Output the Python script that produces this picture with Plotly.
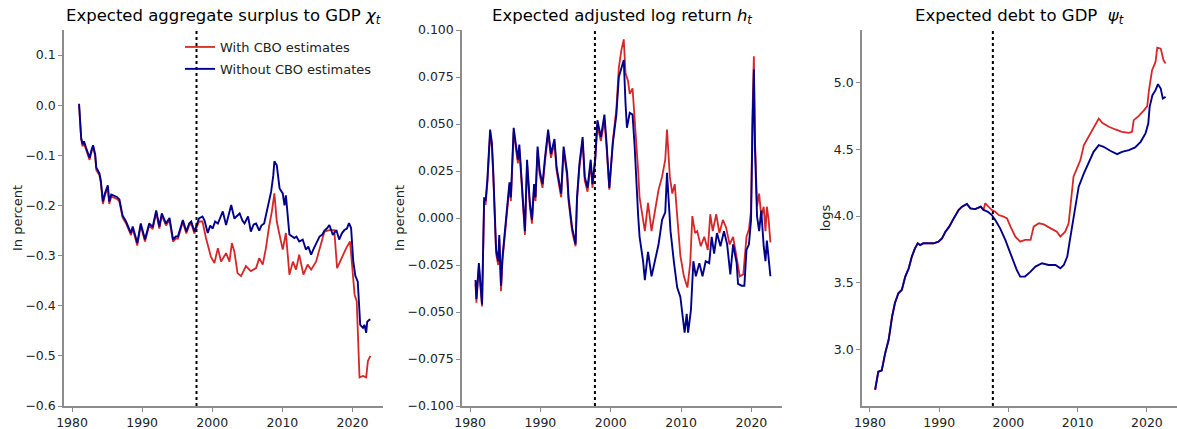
import plotly.graph_objects as go

# ---------------------------------------------------------------------------
# Data
# ---------------------------------------------------------------------------
sample_break = 1997.75

# Expected aggregate surplus to GDP (chi_t), without CBO estimates
chi_wo_years = [1981.0, 1981.15, 1981.3, 1981.5, 1981.7, 1982.0, 1982.3, 1982.5, 1982.8, 1983.0,
                1983.3, 1983.45, 1983.9, 1984.1, 1984.4, 1984.7, 1985.1, 1985.3, 1985.6, 1986.0,
                1986.4, 1986.75, 1987.2, 1987.7, 1988.0, 1988.4, 1988.65, 1989.0, 1989.3, 1989.8,
                1990.1, 1990.4, 1991.0, 1991.5, 1992.0, 1992.45, 1992.8, 1993.4, 1993.9, 1994.4,
                1994.8, 1995.1, 1995.8, 1996.3, 1996.7, 1997.0, 1997.45, 1997.8, 1998.1, 1998.6,
                1998.9, 1999.35, 1999.7, 2000.06, 2000.4, 2000.8, 2001.5, 2001.97, 2002.4, 2002.7,
                2003.15, 2003.9, 2004.3, 2004.6, 2005.1, 2005.5, 2005.9, 2006.25, 2006.7, 2007.0,
                2007.4, 2007.9, 2008.4, 2008.7, 2008.86, 2009.2, 2009.6, 2010.05, 2010.3, 2010.5,
                2010.75, 2011.0, 2011.4, 2011.7, 2012.0, 2012.4, 2012.9, 2013.35, 2013.7, 2014.1,
                2014.5, 2014.8, 2015.3, 2015.7, 2016.0, 2016.4, 2016.7, 2017.2, 2017.7, 2018.1,
                2018.5, 2018.85, 2019.2, 2019.5, 2019.8, 2020.1, 2020.4, 2020.75, 2021.1, 2021.5,
                2021.7, 2021.95, 2022.1, 2022.4, 2022.55]
chi_wo_vals = [0.003, -0.045, -0.065, -0.078, -0.072, -0.085, -0.095, -0.105, -0.088, -0.080,
               -0.098, -0.124, -0.136, -0.150, -0.192, -0.175, -0.160, -0.192, -0.178, -0.180,
               -0.183, -0.188, -0.220, -0.232, -0.242, -0.255, -0.242, -0.258, -0.275, -0.236,
               -0.255, -0.268, -0.236, -0.243, -0.210, -0.242, -0.216, -0.236, -0.225, -0.268,
               -0.262, -0.262, -0.229, -0.252, -0.236, -0.232, -0.252, -0.238, -0.226, -0.222,
               -0.230, -0.255, -0.240, -0.246, -0.232, -0.236, -0.212, -0.239, -0.215, -0.199,
               -0.226, -0.216, -0.230, -0.236, -0.222, -0.252, -0.238, -0.236, -0.250, -0.240,
               -0.236, -0.205, -0.172, -0.140, -0.112, -0.120, -0.166, -0.176, -0.200, -0.180,
               -0.215, -0.258, -0.262, -0.265, -0.262, -0.272, -0.268, -0.288, -0.282, -0.298,
               -0.285, -0.276, -0.262, -0.258, -0.250, -0.245, -0.239, -0.259, -0.249, -0.268,
               -0.255, -0.249, -0.246, -0.235, -0.245, -0.310, -0.340, -0.352, -0.438, -0.444,
               -0.438, -0.454, -0.432, -0.428, -0.427]

# Expected aggregate surplus to GDP (chi_t), with CBO estimates
chi_w_years = [1981.0, 1981.15, 1981.3, 1981.5, 1981.7, 1982.0, 1982.3, 1982.5, 1982.8, 1983.0,
               1983.3, 1983.45, 1983.9, 1984.1, 1984.4, 1984.7, 1985.1, 1985.3, 1985.6, 1986.0,
               1986.4, 1986.75, 1987.2, 1987.7, 1988.0, 1988.4, 1988.65, 1989.0, 1989.3, 1989.8,
               1990.1, 1990.4, 1991.0, 1991.5, 1992.0, 1992.45, 1992.8, 1993.4, 1993.9, 1994.4,
               1994.8, 1995.1, 1995.8, 1996.3, 1996.7, 1997.0, 1997.45, 1997.8, 1998.1, 1998.6,
               1999.1, 1999.8, 2000.3, 2000.8, 2001.25, 2001.97, 2002.45, 2002.8, 2003.15, 2003.6,
               2004.1, 2004.8, 2005.5, 2006.25, 2006.7, 2007.2, 2007.65, 2008.1, 2008.5, 2008.86,
               2009.2, 2009.6, 2010.05, 2010.5, 2011.0, 2011.5, 2011.95, 2012.4, 2013.0, 2013.6,
               2014.1, 2014.8, 2015.3, 2016.0, 2016.7, 2017.4, 2017.8, 2018.4, 2019.1, 2019.65,
               2020.05, 2020.3, 2020.6, 2021.0, 2021.5, 2021.95, 2022.2, 2022.55]
chi_w_vals = [0.000, -0.048, -0.068, -0.082, -0.076, -0.089, -0.099, -0.109, -0.092, -0.084,
              -0.102, -0.129, -0.140, -0.155, -0.197, -0.179, -0.165, -0.197, -0.182, -0.185,
              -0.187, -0.192, -0.224, -0.236, -0.246, -0.259, -0.246, -0.262, -0.280, -0.240,
              -0.259, -0.272, -0.240, -0.247, -0.214, -0.246, -0.220, -0.240, -0.229, -0.272,
              -0.266, -0.266, -0.233, -0.256, -0.240, -0.236, -0.256, -0.242, -0.232, -0.232,
              -0.265, -0.302, -0.315, -0.285, -0.312, -0.295, -0.312, -0.275, -0.292, -0.335,
              -0.341, -0.321, -0.331, -0.325, -0.305, -0.318, -0.285, -0.242, -0.212, -0.176,
              -0.232, -0.259, -0.288, -0.255, -0.338, -0.312, -0.328, -0.298, -0.338, -0.318,
              -0.328, -0.312, -0.285, -0.252, -0.249, -0.249, -0.325, -0.305, -0.285, -0.272,
              -0.338, -0.378, -0.391, -0.543, -0.540, -0.543, -0.510, -0.500]

# Expected adjusted log return (h_t), without CBO estimates
h_wo_years = [1980.77, 1980.9, 1981.25, 1981.5, 1981.7, 1982.0, 1982.2, 1982.45, 1982.85, 1983.1,
              1983.3, 1983.7, 1984.0, 1984.15, 1984.4, 1984.6, 1984.95, 1985.25, 1985.6, 1985.8,
              1986.2, 1986.55, 1986.8, 1987.0, 1987.4, 1987.8, 1988.1, 1988.5, 1988.8, 1989.1,
              1989.3, 1989.6, 1989.9, 1990.3, 1990.65, 1991.1, 1991.5, 1992.0, 1992.3, 1992.95,
              1993.3, 1993.8, 1994.0, 1994.5, 1995.0, 1995.2, 1995.55, 1996.0, 1996.3, 1996.7,
              1997.15, 1997.4, 1997.8, 1998.1, 1998.6, 1999.1, 1999.4, 1999.8, 2000.3, 2000.8,
              2001.15, 2001.5, 2001.85, 2002.1, 2002.3, 2002.7, 2003.1, 2003.4, 2003.65, 2003.9,
              2004.1, 2004.6, 2004.85, 2005.3, 2005.8, 2006.3, 2006.8, 2007.3, 2007.75, 2008.0,
              2008.5, 2009.0, 2009.45, 2009.9, 2010.3, 2010.5, 2010.8, 2011.0, 2011.4, 2011.75,
              2012.1, 2012.6, 2013.05, 2013.5, 2014.0, 2014.35, 2014.7, 2015.1, 2015.6, 2016.1,
              2016.55, 2017.0, 2017.4, 2017.9, 2018.1, 2018.6, 2019.0, 2019.3, 2019.65, 2019.95,
              2020.15, 2020.35, 2020.5, 2020.8, 2021.1, 2021.4, 2021.75, 2022.0, 2022.2, 2022.45,
              2022.7]
h_wo_vals = [-0.033, -0.043, -0.024, -0.038, -0.046, 0.011, 0.009, 0.020, 0.047, 0.040,
             0.024, -0.017, -0.023, -0.009, -0.036, -0.021, -0.007, 0.009, 0.019, 0.011,
             0.048, 0.038, 0.031, 0.039, 0.015, -0.007, 0.031, 0.008, -0.001, 0.018,
             0.011, 0.038, 0.025, 0.018, 0.032, 0.047, 0.034, 0.042, 0.027, 0.013,
             0.038, 0.024, 0.011, -0.005, -0.014, 0.011, 0.029, 0.043, 0.022, 0.016,
             0.031, 0.018, 0.032, 0.052, 0.043, 0.055, 0.040, 0.016, 0.040, 0.055,
             0.075, 0.079, 0.084, 0.061, 0.048, 0.056, 0.055, 0.038, 0.015, 0.001,
             -0.010, -0.023, -0.033, -0.018, -0.031, -0.023, -0.014, -0.001, 0.003, 0.024,
             -0.007, -0.024, -0.037, -0.042, -0.054, -0.061, -0.051, -0.061, -0.049, -0.023,
             -0.031, -0.024, -0.031, -0.023, -0.024, -0.010, -0.019, -0.008, -0.015, -0.007,
             -0.014, -0.030, -0.014, -0.024, -0.035, -0.036, -0.036, -0.017, -0.014, -0.001,
             0.047, 0.079, 0.038, 0.001, -0.007, 0.004, -0.015, -0.023, -0.012, -0.024,
             -0.031]

# Expected adjusted log return (h_t), with CBO estimates
h_w_years = [1980.77, 1980.9, 1981.25, 1981.5, 1981.7, 1982.0, 1982.2, 1982.45, 1982.85, 1983.1,
             1983.3, 1983.7, 1984.0, 1984.15, 1984.4, 1984.6, 1984.95, 1985.25, 1985.6, 1985.8,
             1986.2, 1986.55, 1986.8, 1987.0, 1987.4, 1987.8, 1988.1, 1988.5, 1988.8, 1989.1,
             1989.3, 1989.6, 1989.9, 1990.3, 1990.65, 1991.1, 1991.5, 1992.0, 1992.3, 1992.95,
             1993.3, 1993.8, 1994.0, 1994.5, 1995.0, 1995.2, 1995.55, 1996.0, 1996.3, 1996.7,
             1997.15, 1997.4, 1997.8, 1998.1, 1998.6, 1999.1, 1999.4, 1999.8, 2000.3, 2000.8,
             2001.15, 2001.5, 2001.85, 2002.1, 2002.45, 2002.7, 2003.1, 2003.4, 2003.65, 2003.9,
             2004.1, 2004.5, 2004.85, 2005.3, 2005.8, 2006.3, 2006.8, 2007.3, 2007.75, 2008.0,
             2008.4, 2008.75, 2009.1, 2009.45, 2009.9, 2010.4, 2010.9, 2011.3, 2011.6, 2012.0,
             2012.3, 2012.8, 2013.3, 2013.8, 2014.15, 2014.5, 2015.0, 2015.45, 2015.95, 2016.4,
             2016.9, 2017.4, 2017.9, 2018.35, 2018.85, 2019.3, 2019.65, 2019.95, 2020.15, 2020.35,
             2020.5, 2020.8, 2021.1, 2021.4, 2021.75, 2022.0, 2022.2, 2022.45, 2022.7]
h_w_vals = [-0.035, -0.045, -0.026, -0.040, -0.047, 0.009, 0.007, 0.018, 0.045, 0.038,
            0.022, -0.019, -0.025, -0.011, -0.039, -0.023, -0.009, 0.007, 0.017, 0.009,
            0.046, 0.036, 0.029, 0.037, 0.013, -0.009, 0.029, 0.006, -0.003, 0.016,
            0.009, 0.036, 0.023, 0.016, 0.030, 0.045, 0.032, 0.040, 0.025, 0.011,
            0.036, 0.022, 0.009, -0.007, -0.015, 0.009, 0.027, 0.041, 0.020, 0.014,
            0.029, 0.016, 0.031, 0.049, 0.041, 0.052, 0.038, 0.015, 0.041, 0.058,
            0.080, 0.089, 0.095, 0.077, 0.073, 0.066, 0.069, 0.054, 0.038, 0.025,
            0.011, 0.002, -0.007, 0.008, -0.007, 0.004, 0.015, 0.022, 0.031, 0.047,
            0.022, 0.013, 0.018, 0.001, -0.020, -0.031, -0.037, -0.024, 0.001, -0.008,
            -0.007, -0.015, -0.010, -0.017, 0.002, -0.007, 0.002, -0.008, -0.001, -0.005,
            -0.014, -0.010, -0.021, -0.031, -0.030, -0.010, -0.006, 0.004, 0.055, 0.086,
            0.043, 0.006, 0.013, 0.001, 0.006, -0.007, 0.006, -0.001, -0.013]

# Expected debt to GDP (psi_t), without CBO estimates
psi_wo_years = [1980.75, 1981.2, 1981.7, 1982.2, 1982.7, 1983.2, 1983.6, 1984.1, 1984.6, 1985.1,
                1985.6, 1986.05, 1986.5, 1986.9, 1987.25, 1987.7, 1988.45, 1989.2, 1989.9, 1990.4,
                1990.9, 1991.45, 1992.1, 1992.8, 1993.3, 1994.0, 1994.5, 1995.2, 1996.0, 1996.4,
                1997.05, 1997.6, 1998.1, 1998.8, 1999.55, 2000.3, 2000.75, 2001.2, 2001.7, 2002.4,
                2003.2, 2003.9, 2004.85, 2005.8, 2006.8, 2007.5, 2008.0, 2008.5, 2008.8, 2009.2,
                2009.7, 2010.15, 2010.9, 2011.6, 2012.3, 2013.05, 2013.75, 2014.7, 2015.7, 2016.4,
                2017.4, 2018.3, 2019.1, 2019.8, 2020.2, 2020.4, 2020.8, 2021.25, 2021.6, 2022.0,
                2022.3, 2022.7]
psi_wo_vals = [2.695, 2.830, 2.840, 2.970, 3.070, 3.245, 3.345, 3.420, 3.445, 3.545,
               3.607, 3.695, 3.757, 3.795, 3.782, 3.795, 3.795, 3.795, 3.807, 3.832,
               3.882, 3.920, 3.982, 4.045, 4.070, 4.090, 4.057, 4.052, 4.070, 4.045,
               4.032, 4.007, 3.970, 3.907, 3.820, 3.720, 3.645, 3.595, 3.545, 3.545,
               3.582, 3.620, 3.645, 3.632, 3.632, 3.607, 3.632, 3.695, 3.795, 3.920,
               4.095, 4.220, 4.320, 4.395, 4.482, 4.532, 4.520, 4.490, 4.465, 4.482,
               4.495, 4.515, 4.557, 4.620, 4.695, 4.820, 4.907, 4.945, 4.990, 4.957,
               4.882, 4.895]

# Expected debt to GDP (psi_t), with CBO estimates
psi_w_years = [1980.75, 1981.2, 1981.7, 1982.2, 1982.7, 1983.2, 1983.6, 1984.1, 1984.6, 1985.1,
               1985.6, 1986.05, 1986.5, 1986.9, 1987.25, 1987.7, 1988.45, 1989.2, 1989.9, 1990.4,
               1990.9, 1991.45, 1992.1, 1992.8, 1993.3, 1994.0, 1994.5, 1995.2, 1996.0, 1996.4,
               1996.65, 1997.15, 1997.6, 1998.1, 1998.6, 1999.3, 1999.8, 2000.3, 2001.0, 2001.7,
               2002.4, 2003.2, 2003.65, 2004.4, 2005.1, 2006.1, 2007.0, 2007.5, 2008.2, 2008.7,
               2009.1, 2009.4, 2009.9, 2010.4, 2010.9, 2011.6, 2012.3, 2013.05, 2013.55, 2014.5,
               2015.45, 2016.4, 2017.4, 2017.85, 2018.1, 2018.8, 2019.6, 2020.05, 2020.3, 2020.75,
               2021.25, 2021.5, 2022.0, 2022.4, 2022.7]
psi_w_vals = [2.695, 2.830, 2.840, 2.970, 3.070, 3.245, 3.345, 3.420, 3.445, 3.545,
              3.607, 3.695, 3.757, 3.795, 3.782, 3.795, 3.795, 3.795, 3.807, 3.832,
              3.882, 3.920, 3.982, 4.045, 4.070, 4.090, 4.057, 4.052, 4.070, 4.045,
              4.095, 4.070, 4.045, 4.032, 4.007, 3.995, 3.982, 3.920, 3.845, 3.807,
              3.820, 3.820, 3.920, 3.945, 3.937, 3.907, 3.882, 3.845, 3.882, 3.945,
              4.145, 4.295, 4.357, 4.420, 4.532, 4.595, 4.657, 4.732, 4.700, 4.670,
              4.650, 4.632, 4.625, 4.632, 4.720, 4.750, 4.795, 4.825, 4.945, 5.095,
              5.157, 5.265, 5.257, 5.170, 5.145]

x_ticks = [1980, 1990, 2000, 2010, 2020]

# ---------------------------------------------------------------------------
# Figure
# ---------------------------------------------------------------------------
RED = "#d62728"
BLUE = "#00008b"
W, H = 1177, 429

panels = [
    dict(x=(64, 383), title="Expected aggregate surplus to GDP <i>χ<sub>t</sub></i>",
         ylabel="In percent", yrange=[-0.6, 0.15], ytick=[-0.6, -0.5, -0.4, -0.3, -0.2, -0.1, 0.0, 0.1],
         fmt=".1f", red=(chi_w_years, chi_w_vals), blue=(chi_wo_years, chi_wo_vals)),
    dict(x=(462, 782), title="Expected adjusted log return <i>h<sub>t</sub></i>",
         ylabel="In percent", yrange=[-0.1, 0.1],
         ytick=[-0.1, -0.075, -0.05, -0.025, 0.0, 0.025, 0.05, 0.075, 0.1],
         fmt=".3f", red=(h_w_years, h_w_vals), blue=(h_wo_years, h_wo_vals)),
    dict(x=(862, 1177), title="Expected debt to GDP  <i>ψ<sub>t</sub></i>",
         ylabel="logs", yrange=[2.573, 5.397], ytick=[3.0, 3.5, 4.0, 4.5, 5.0],
         fmt=".1f", red=(psi_w_years, psi_w_vals), blue=(psi_wo_years, psi_wo_vals)),
]

y_dom = [(H - 406) / H, (H - 30) / H]
x_range = [1978.85, 2024.35]

fig = go.Figure()
axis_common = dict(showgrid=False, zeroline=False, showline=True, linecolor="#8c8c8c",
                   linewidth=1.5, ticks="outside", ticklen=4, tickwidth=1.2,
                   tickcolor="#8c8c8c", tickfont=dict(size=12.5, color="#222222"),
                   automargin=False)

for i, p in enumerate(panels, start=1):
    xa = "x" if i == 1 else f"x{i}"
    ya = "y" if i == 1 else f"y{i}"
    fig.add_trace(go.Scatter(x=p["red"][0], y=p["red"][1], mode="lines",
                             line=dict(color=RED, width=1.8), name="With CBO estimates",
                             legendgroup="cbo", showlegend=(i == 1), xaxis=xa, yaxis=ya))
    fig.add_trace(go.Scatter(x=p["blue"][0], y=p["blue"][1], mode="lines",
                             line=dict(color=BLUE, width=1.9), name="Without CBO estimates",
                             legendgroup="nocbo", showlegend=(i == 1), xaxis=xa, yaxis=ya))

    dom = [p["x"][0] / W, min(p["x"][1] / W, 1.0)]
    fig.layout[f"xaxis{'' if i == 1 else i}"] = dict(
        domain=dom, range=x_range, tickvals=x_ticks, anchor=ya, **axis_common)
    fig.layout[f"yaxis{'' if i == 1 else i}"] = dict(
        domain=y_dom, range=p["yrange"], tickvals=p["ytick"], tickformat=p["fmt"],
        anchor=xa, title=dict(text=p["ylabel"], font=dict(size=13, color="#222222"), standoff=0),
        **axis_common)

    fig.add_shape(type="line", xref=xa, yref=f"{ya} domain", x0=sample_break, x1=sample_break,
                  y0=0, y1=1, line=dict(color="black", width=2, dash="dot"))
    fig.add_annotation(text=p["title"], xref="paper", yref="paper",
                       x=(p["x"][0] + p["x"][1]) / 2 / W, y=1 - 17 / H, showarrow=False,
                       xanchor="center", yanchor="middle",
                       font=dict(size=16.5, color="black"))

fig.update_layout(
    width=W, height=H, margin=dict(l=0, r=0, t=0, b=0),
    paper_bgcolor="white", plot_bgcolor="white",
    font=dict(family="DejaVu Sans", color="#222222"),
    legend=dict(x=180 / W, y=1 - 32 / H, xanchor="left", yanchor="top",
                bgcolor="rgba(0,0,0,0)", font=dict(size=13, color="#222222"),
                tracegroupgap=2),
)

fig.write_html("out.html")
